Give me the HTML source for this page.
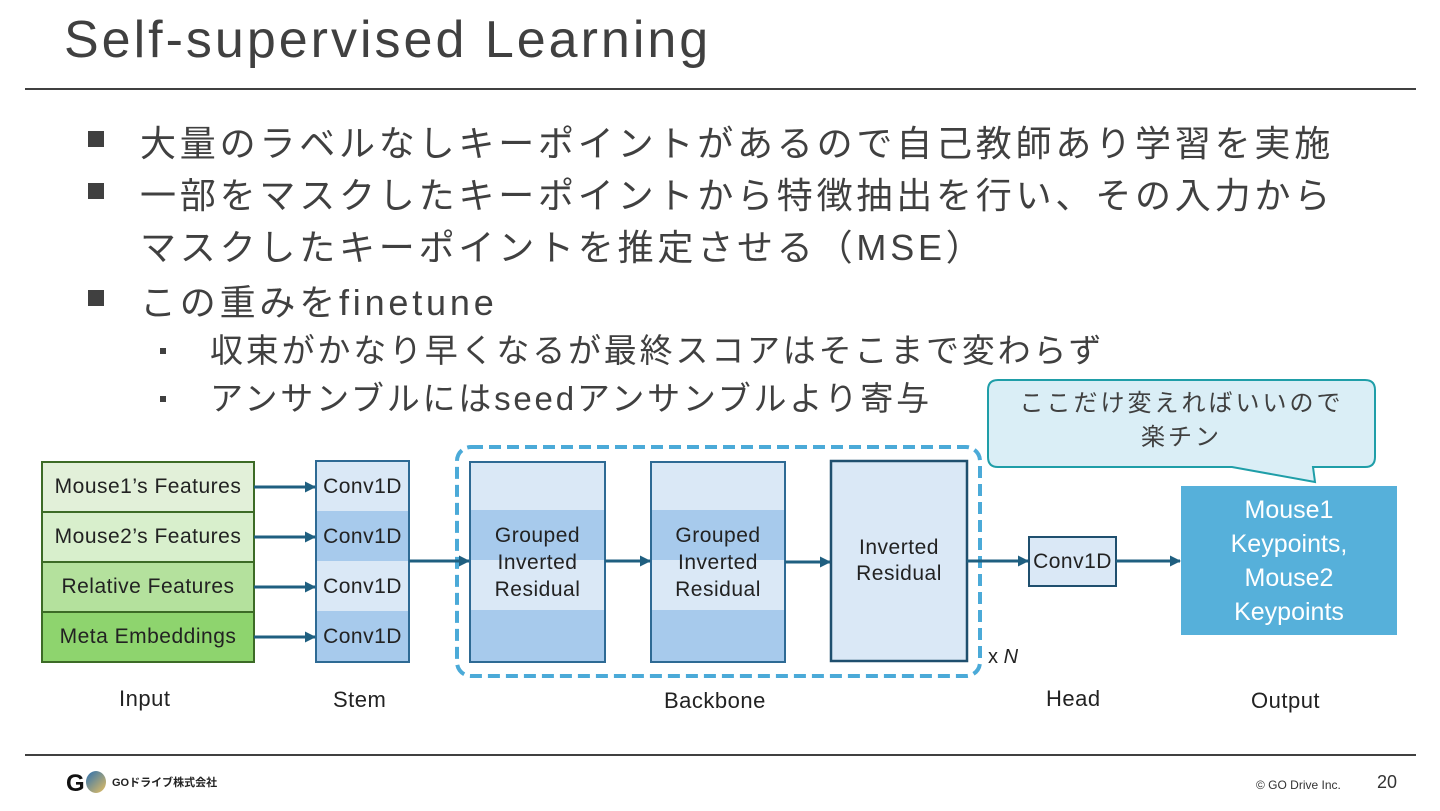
<!DOCTYPE html>
<html><head><meta charset="utf-8"><style>
body{margin:0;width:1440px;height:811px;background:#fff;position:relative;overflow:hidden;font-family:"Liberation Sans","Noto Sans CJK JP",sans-serif;color:#404040}
.a{position:absolute}
.t{display:flex;align-items:center;justify-content:center;text-align:center;box-sizing:border-box}
.b{font-size:36px;white-space:nowrap;letter-spacing:3.8px}
.s{font-size:33px;white-space:nowrap;letter-spacing:2.8px}
.sq{width:16px;height:16px;background:#404040}
.lab{font-size:21px;color:#222;letter-spacing:0.5px}
</style></head><body>
<div class="a" style="left:64px;top:10px;font-size:52px;letter-spacing:3px">Self-supervised Learning</div>
<div class="a" style="left:25px;top:88px;width:1391px;height:2px;background:#404040"></div>

<div class="a sq" style="left:88px;top:131px"></div>
<div class="a b" style="left:140px;top:115px">大量のラベルなしキーポイントがあるので自己教師あり学習を実施</div>
<div class="a sq" style="left:88px;top:183px"></div>
<div class="a b" style="left:140px;top:167px">一部をマスクしたキーポイントから特徴抽出を行い、その入力から</div>
<div class="a b" style="left:140px;top:219px">マスクしたキーポイントを推定させる（MSE）</div>
<div class="a sq" style="left:88px;top:290px"></div>
<div class="a b" style="left:140px;top:274px">この重みをfinetune</div>
<div class="a" style="left:160px;top:348px;width:6px;height:6px;background:#404040"></div>
<div class="a s" style="left:210px;top:324px">収束がかなり早くなるが最終スコアはそこまで変わらず</div>
<div class="a" style="left:160px;top:396px;width:6px;height:6px;background:#404040"></div>
<div class="a s" style="left:210px;top:372px">アンサンブルにはseedアンサンブルより寄与</div>

<svg class="a" style="left:0;top:0" width="1440" height="811">
<defs><marker id="ar" markerWidth="11" markerHeight="11" refX="10" refY="5.5" orient="auto" markerUnits="userSpaceOnUse"><path d="M0,0L11,5.5L0,11z" fill="#1f5f80"/></marker></defs>
<rect x="42" y="462" width="212" height="50" fill="#e2f0d9" stroke="#3c6b26" stroke-width="2"/>
<rect x="42" y="512" width="212" height="50" fill="#d8efcc" stroke="#3c6b26" stroke-width="2"/>
<rect x="42" y="562" width="212" height="50" fill="#b4e19d" stroke="#3c6b26" stroke-width="2"/>
<rect x="42" y="612" width="212" height="50" fill="#8ed46e" stroke="#3c6b26" stroke-width="2"/>
<rect x="316" y="461" width="93" height="50" fill="#dae8f6"/>
<rect x="316" y="511" width="93" height="50" fill="#a7caec"/>
<rect x="316" y="561" width="93" height="50" fill="#dae8f6"/>
<rect x="316" y="611" width="93" height="51" fill="#a7caec"/>
<rect x="316" y="461" width="93" height="201" fill="none" stroke="#2e6a94" stroke-width="2"/>
<rect x="470" y="462" width="135" height="48" fill="#dae8f6"/><rect x="470" y="510" width="135" height="50" fill="#a7caec"/><rect x="470" y="560" width="135" height="50" fill="#dae8f6"/><rect x="470" y="610" width="135" height="52" fill="#a7caec"/>
<rect x="470" y="462" width="135" height="200" fill="none" stroke="#2e6a94" stroke-width="2"/>
<rect x="651" y="462" width="134" height="48" fill="#dae8f6"/><rect x="651" y="510" width="134" height="50" fill="#a7caec"/><rect x="651" y="560" width="134" height="50" fill="#dae8f6"/><rect x="651" y="610" width="134" height="52" fill="#a7caec"/>
<rect x="651" y="462" width="134" height="200" fill="none" stroke="#2e6a94" stroke-width="2"/>
<rect x="831" y="461" width="136" height="200" fill="#dae8f6" stroke="#1f4f6e" stroke-width="2.5"/>
<rect x="457" y="447" width="523" height="229" rx="14" fill="none" stroke="#4baad8" stroke-width="4" stroke-dasharray="12,6"/>
<rect x="1029" y="537" width="87" height="49" fill="#dae8f6" stroke="#1f4f6e" stroke-width="2"/>
<rect x="1181" y="486" width="216" height="149" fill="#56b0da"/>
<path d="M998,380 H1365 Q1375,380 1375,390 V457 Q1375,467 1365,467 H1313 L1315,482 L1232,467 H998 Q988,467 988,457 V390 Q988,380 998,380 Z" fill="#daeef6" stroke="#1f9ea8" stroke-width="2"/>
<g stroke="#1f5f80" stroke-width="3" fill="none" marker-end="url(#ar)">
<line x1="254" y1="487" x2="315" y2="487"/>
<line x1="254" y1="537" x2="315" y2="537"/>
<line x1="254" y1="587" x2="315" y2="587"/>
<line x1="254" y1="637" x2="315" y2="637"/>
<line x1="409" y1="561" x2="469" y2="561"/>
<line x1="605" y1="561" x2="650" y2="561"/>
<line x1="785" y1="562" x2="830" y2="562"/>
<line x1="967" y1="561" x2="1028" y2="561"/>
<line x1="1116" y1="561" x2="1180" y2="561"/>
</g>
</svg>

<div class="a t lab" style="left:42px;top:462px;width:212px;height:50px">Mouse1’s Features</div>
<div class="a t lab" style="left:42px;top:512px;width:212px;height:50px">Mouse2’s Features</div>
<div class="a t lab" style="left:42px;top:562px;width:212px;height:50px">Relative Features</div>
<div class="a t lab" style="left:42px;top:612px;width:212px;height:50px">Meta Embeddings</div>
<div class="a t lab" style="left:316px;top:462px;width:93px;height:50px">Conv1D</div>
<div class="a t lab" style="left:316px;top:512px;width:93px;height:50px">Conv1D</div>
<div class="a t lab" style="left:316px;top:562px;width:93px;height:50px">Conv1D</div>
<div class="a t lab" style="left:316px;top:612px;width:93px;height:50px">Conv1D</div>
<div class="a t lab" style="left:470px;top:520px;width:135px;height:85px;line-height:27px">Grouped<br>Inverted<br>Residual</div>
<div class="a t lab" style="left:651px;top:520px;width:134px;height:85px;line-height:27px">Grouped<br>Inverted<br>Residual</div>
<div class="a t lab" style="left:831px;top:533px;width:136px;height:56px;line-height:26px;font-size:21px">Inverted<br>Residual</div>
<div class="a t lab" style="left:1029px;top:537px;width:87px;height:49px">Conv1D</div>
<div class="a t" style="left:1181px;top:496px;width:216px;height:130px;color:#fff;font-size:25px;line-height:34px">Mouse1<br>Keypoints,<br>Mouse2<br>Keypoints</div>
<div class="a t" style="left:988px;top:386px;width:387px;height:70px;font-size:24px;line-height:34px;letter-spacing:3px;color:#404040">ここだけ変えればいいので<br>楽チン</div>
<div class="a" style="left:988px;top:646px;font-size:20px;color:#222">x <i>N</i></div>
<div class="a lab" style="left:119px;top:686px;font-size:22px">Input</div>
<div class="a lab" style="left:333px;top:687px;font-size:22px">Stem</div>
<div class="a lab" style="left:664px;top:688px;font-size:22px">Backbone</div>
<div class="a lab" style="left:1046px;top:686px;font-size:22px">Head</div>
<div class="a lab" style="left:1251px;top:688px;font-size:22px">Output</div>

<div class="a" style="left:25px;top:754px;width:1391px;height:2px;background:#404040"></div>
<div class="a" style="left:66px;top:770px;font-size:24px;font-weight:bold;color:#111">G</div>
<div class="a" style="left:86px;top:771px;width:20px;height:22px;border-radius:50%;background:linear-gradient(135deg,#2a6fb0,#e8c060)"></div>
<div class="a" style="left:112px;top:774px;font-size:11px;font-weight:bold;color:#222">GOドライブ株式会社</div>
<div class="a" style="left:1256px;top:778px;font-size:12px;color:#333">© GO Drive Inc.</div>
<div class="a" style="left:1377px;top:772px;font-size:18px;color:#333">20</div>
</body></html>
